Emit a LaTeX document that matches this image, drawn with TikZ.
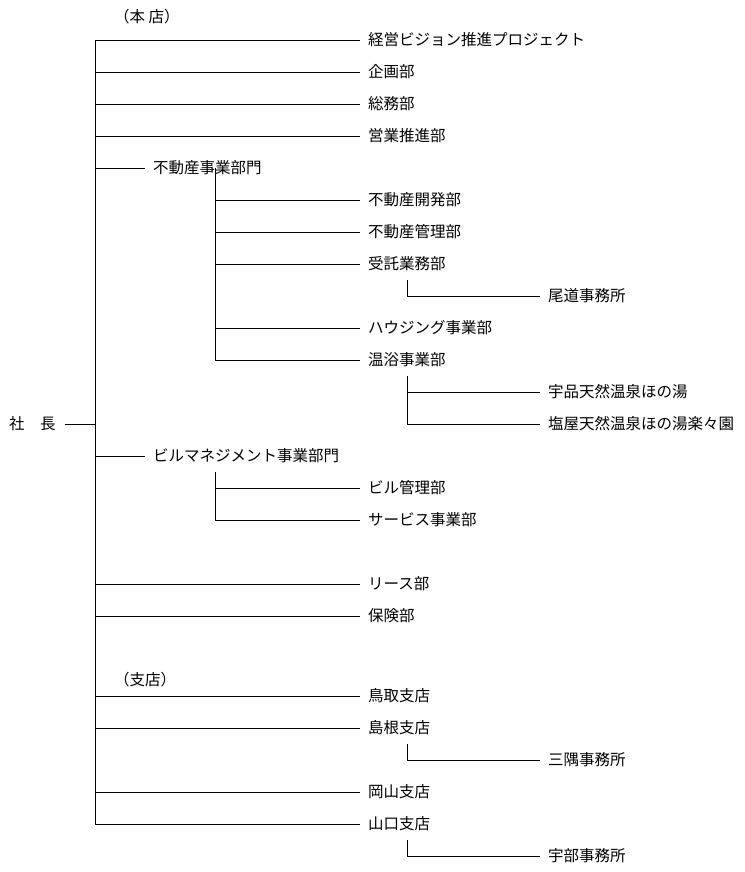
\documentclass[tikz,border=0pt]{standalone}
\usepackage{fontspec}
\setmainfont{Noto Sans CJK JP}
\usetikzlibrary{positioning}
\begin{document}
\begin{tikzpicture}[x=1pt,y=-1pt,
	dept/.style={anchor=west,inner xsep=8pt,inner ysep=0pt,font=\fontsize{15.5}{18}\selectfont},
	note/.style={anchor=west,inner sep=0pt,font=\fontsize{15.5}{18}\selectfont},
	line/.style={black,line width=0.8pt}]
	\useasboundingbox (0,0) rectangle (744,872);
	
	\node[note] (honten) at (114,17) {（本 店）};
	\node[note] (shiten) at (114,680) {（支店）};
	\node[note] (shacho) at (9,424) {社　長};
	
	% main trunk
	\coordinate (top) at (95,40);
	\coordinate (bot) at (95,824);
	\draw[line] (top) -- (bot);
	\draw[line] (shacho.east) ++(9,0) coordinate (s) (s) -- (95,424);
	
	\foreach \y/\name/\txt in {40/a/経営ビジョン推進プロジェクト,72/b/企画部,104/c/総務部,136/d/営業推進部,
		584/e/リース部,616/f/保険部,696/g/鳥取支店,728/h/島根支店,792/i/岡山支店,824/j/山口支店}
	{
		\node[dept] (\name) at (360,\y) {\txt};
		\draw[line] (95,\y) -- (\name.west);
	}
	
	% divisions
	\node[dept] (fudosan) at (145,168) {不動産事業部門};
	\node[dept] (biru) at (145,456) {ビルマネジメント事業部門};
	\draw[line] (95,168) -- (fudosan.west);
	\draw[line] (95,456) -- (biru.west);
	
	\draw[line] (215,168) -- (215,360);
	\foreach \y/\name/\txt in {200/fa/不動産開発部,232/fb/不動産管理部,264/fc/受託業務部,328/fd/ハウジング事業部,360/fe/温浴事業部}
	{
		\node[dept] (\name) at (360,\y) {\txt};
		\draw[line] (215,\y) -- (\name.west);
	}
	\draw[line] (215,472) -- (215,520);
	\foreach \y/\name/\txt in {488/ba/ビル管理部,520/bb/サービス事業部}
	{
		\node[dept] (\name) at (360,\y) {\txt};
		\draw[line] (215,\y) -- (\name.west);
	}
	
	% offices
	\node[dept] (onomichi) at (540,296) {尾道事務所};
	\node[dept] (ujina) at (540,392) {宇品天然温泉ほの湯};
	\node[dept] (shioya) at (540,424) {塩屋天然温泉ほの湯楽々園};
	\node[dept] (misumi) at (540,760) {三隅事務所};
	\node[dept] (ube) at (540,856) {宇部事務所};
	\draw[line] (407,280) |- (onomichi.west);
	\draw[line] (407,376) |- (shioya.west);
	\draw[line] (407,392) -- (ujina.west);
	\draw[line] (407,744) |- (misumi.west);
	\draw[line] (407,840) |- (ube.west);
\end{tikzpicture}
\end{document}
